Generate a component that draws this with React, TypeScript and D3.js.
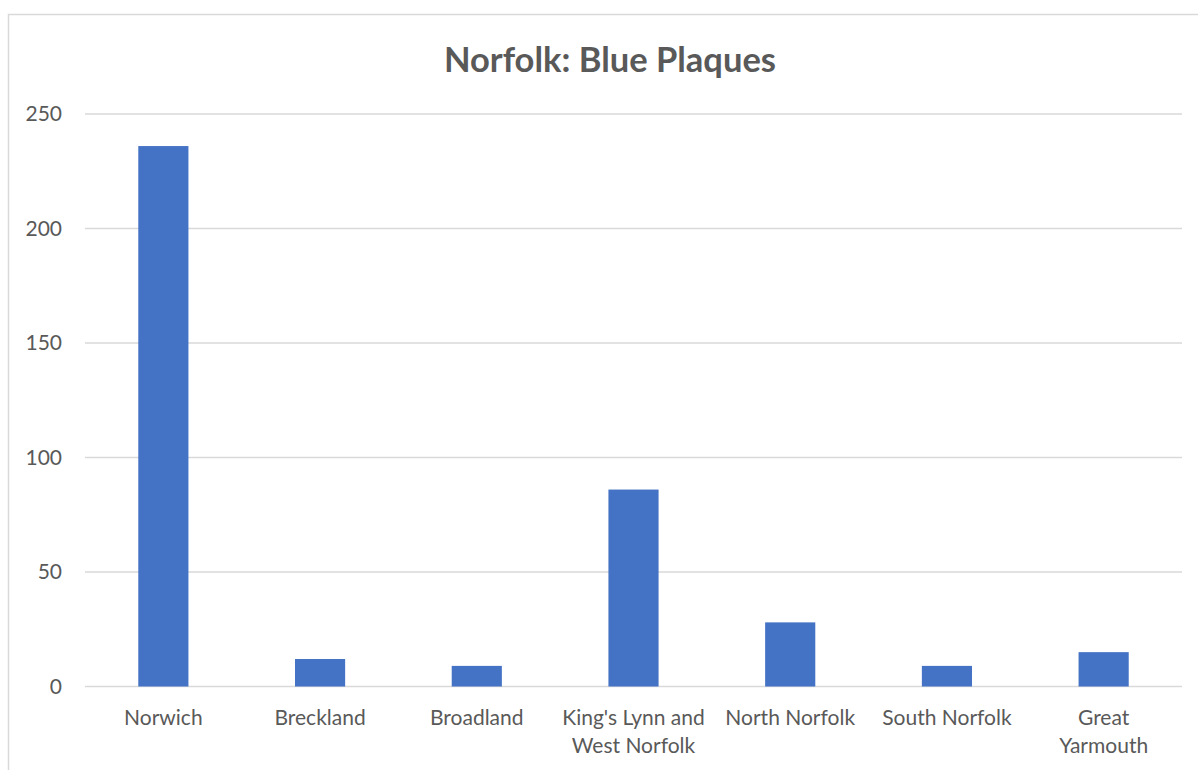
import * as d3 from "d3";
import { useEffect, useRef } from "react";

const categories = [
  "Norwich",
  "Breckland",
  "Broadland",
  "King's Lynn and West Norfolk",
  "North Norfolk",
  "South Norfolk",
  "Great Yarmouth",
];
const labelLines = [
  ["Norwich"],
  ["Breckland"],
  ["Broadland"],
  ["King's Lynn and", "West Norfolk"],
  ["North Norfolk"],
  ["South Norfolk"],
  ["Great", "Yarmouth"],
];
const plaques = [236, 12, 9, 86, 28, 9, 15];
const yTicks = [0, 50, 100, 150, 200, 250];

const W = 1198;
const H = 770;
const FONT = "Lato, 'Open Sans', sans-serif";

const App = () => {
  const svgRef = useRef<SVGSVGElement>(null);

  useEffect(() => {
    if (!svgRef.current) return;
    const svg = d3.select(svgRef.current);
    svg.selectAll("*").remove();

    const margin = { top: 114, right: 16, bottom: 84, left: 85 };
    const x0 = margin.left;
    const x1 = W - margin.right;
    const yBottom = 686.5;
    const yTop = 114;

    // chart border (runs off the right and bottom edges)
    svg.append("rect")
      .attr("x", 8.5)
      .attr("y", 14.5)
      .attr("width", 1400)
      .attr("height", 1000)
      .attr("fill", "#fff")
      .attr("stroke", "#d9d9d9")
      .attr("stroke-width", 1.5);

    const x = d3.scaleBand()
      .domain(categories)
      .range([x0, x1])
      .paddingInner(0.68)
      .paddingOuter(0.34);

    const y = d3.scaleLinear()
      .domain([0, 250])
      .range([yBottom, yTop]);

    // gridlines
    svg.append("g")
      .selectAll("line")
      .data(yTicks)
      .join("line")
      .attr("x1", x0)
      .attr("x2", x1)
      .attr("y1", d => y(d))
      .attr("y2", d => y(d))
      .attr("stroke", "#d9d9d9")
      .attr("stroke-width", 1.3);

    // y tick labels
    svg.append("g")
      .selectAll("text")
      .data(yTicks)
      .join("text")
      .attr("x", 62)
      .attr("y", d => y(d))
      .attr("dy", "0.35em")
      .attr("text-anchor", "end")
      .attr("fill", "#595959")
      .attr("font-family", FONT)
      .attr("font-size", "21px")
      .text(d => d);

    // bars
    svg.append("g")
      .selectAll("rect")
      .data(plaques)
      .join("rect")
      .attr("x", (_, i) => x(categories[i])!)
      .attr("y", d => y(d))
      .attr("width", x.bandwidth())
      .attr("height", d => y(0) - y(d))
      .attr("fill", "#4472c4");

    // x category labels
    const labels = svg.append("g")
      .selectAll("text")
      .data(labelLines)
      .join("text")
      .attr("x", (_, i) => x(categories[i])! + x.bandwidth() / 2)
      .attr("y", 718)
      .attr("text-anchor", "middle")
      .attr("fill", "#595959")
      .attr("font-family", FONT)
      .attr("font-size", "21px");
    labels.each(function (lines, i) {
      const cx = x(categories[i])! + x.bandwidth() / 2;
      d3.select(this)
        .selectAll("tspan")
        .data(lines)
        .join("tspan")
        .attr("x", cx)
        .attr("dy", (_, j) => (j === 0 ? "0.35em" : "28px"))
        .text(t => t);
    });

    // title
    svg.append("text")
      .attr("x", 610)
      .attr("y", 60)
      .attr("dy", "0.35em")
      .attr("text-anchor", "middle")
      .attr("fill", "#595959")
      .attr("font-family", FONT)
      .attr("font-size", "34.5px")
      .attr("font-weight", "bold")
      .text("Norfolk: Blue Plaques");
  }, []);

  return (
    <svg
      ref={svgRef}
      width={W}
      height={H}
      style={{ position: "absolute", left: 0, top: 0, background: "#fff" }}
    />
  );
};

export default App;
